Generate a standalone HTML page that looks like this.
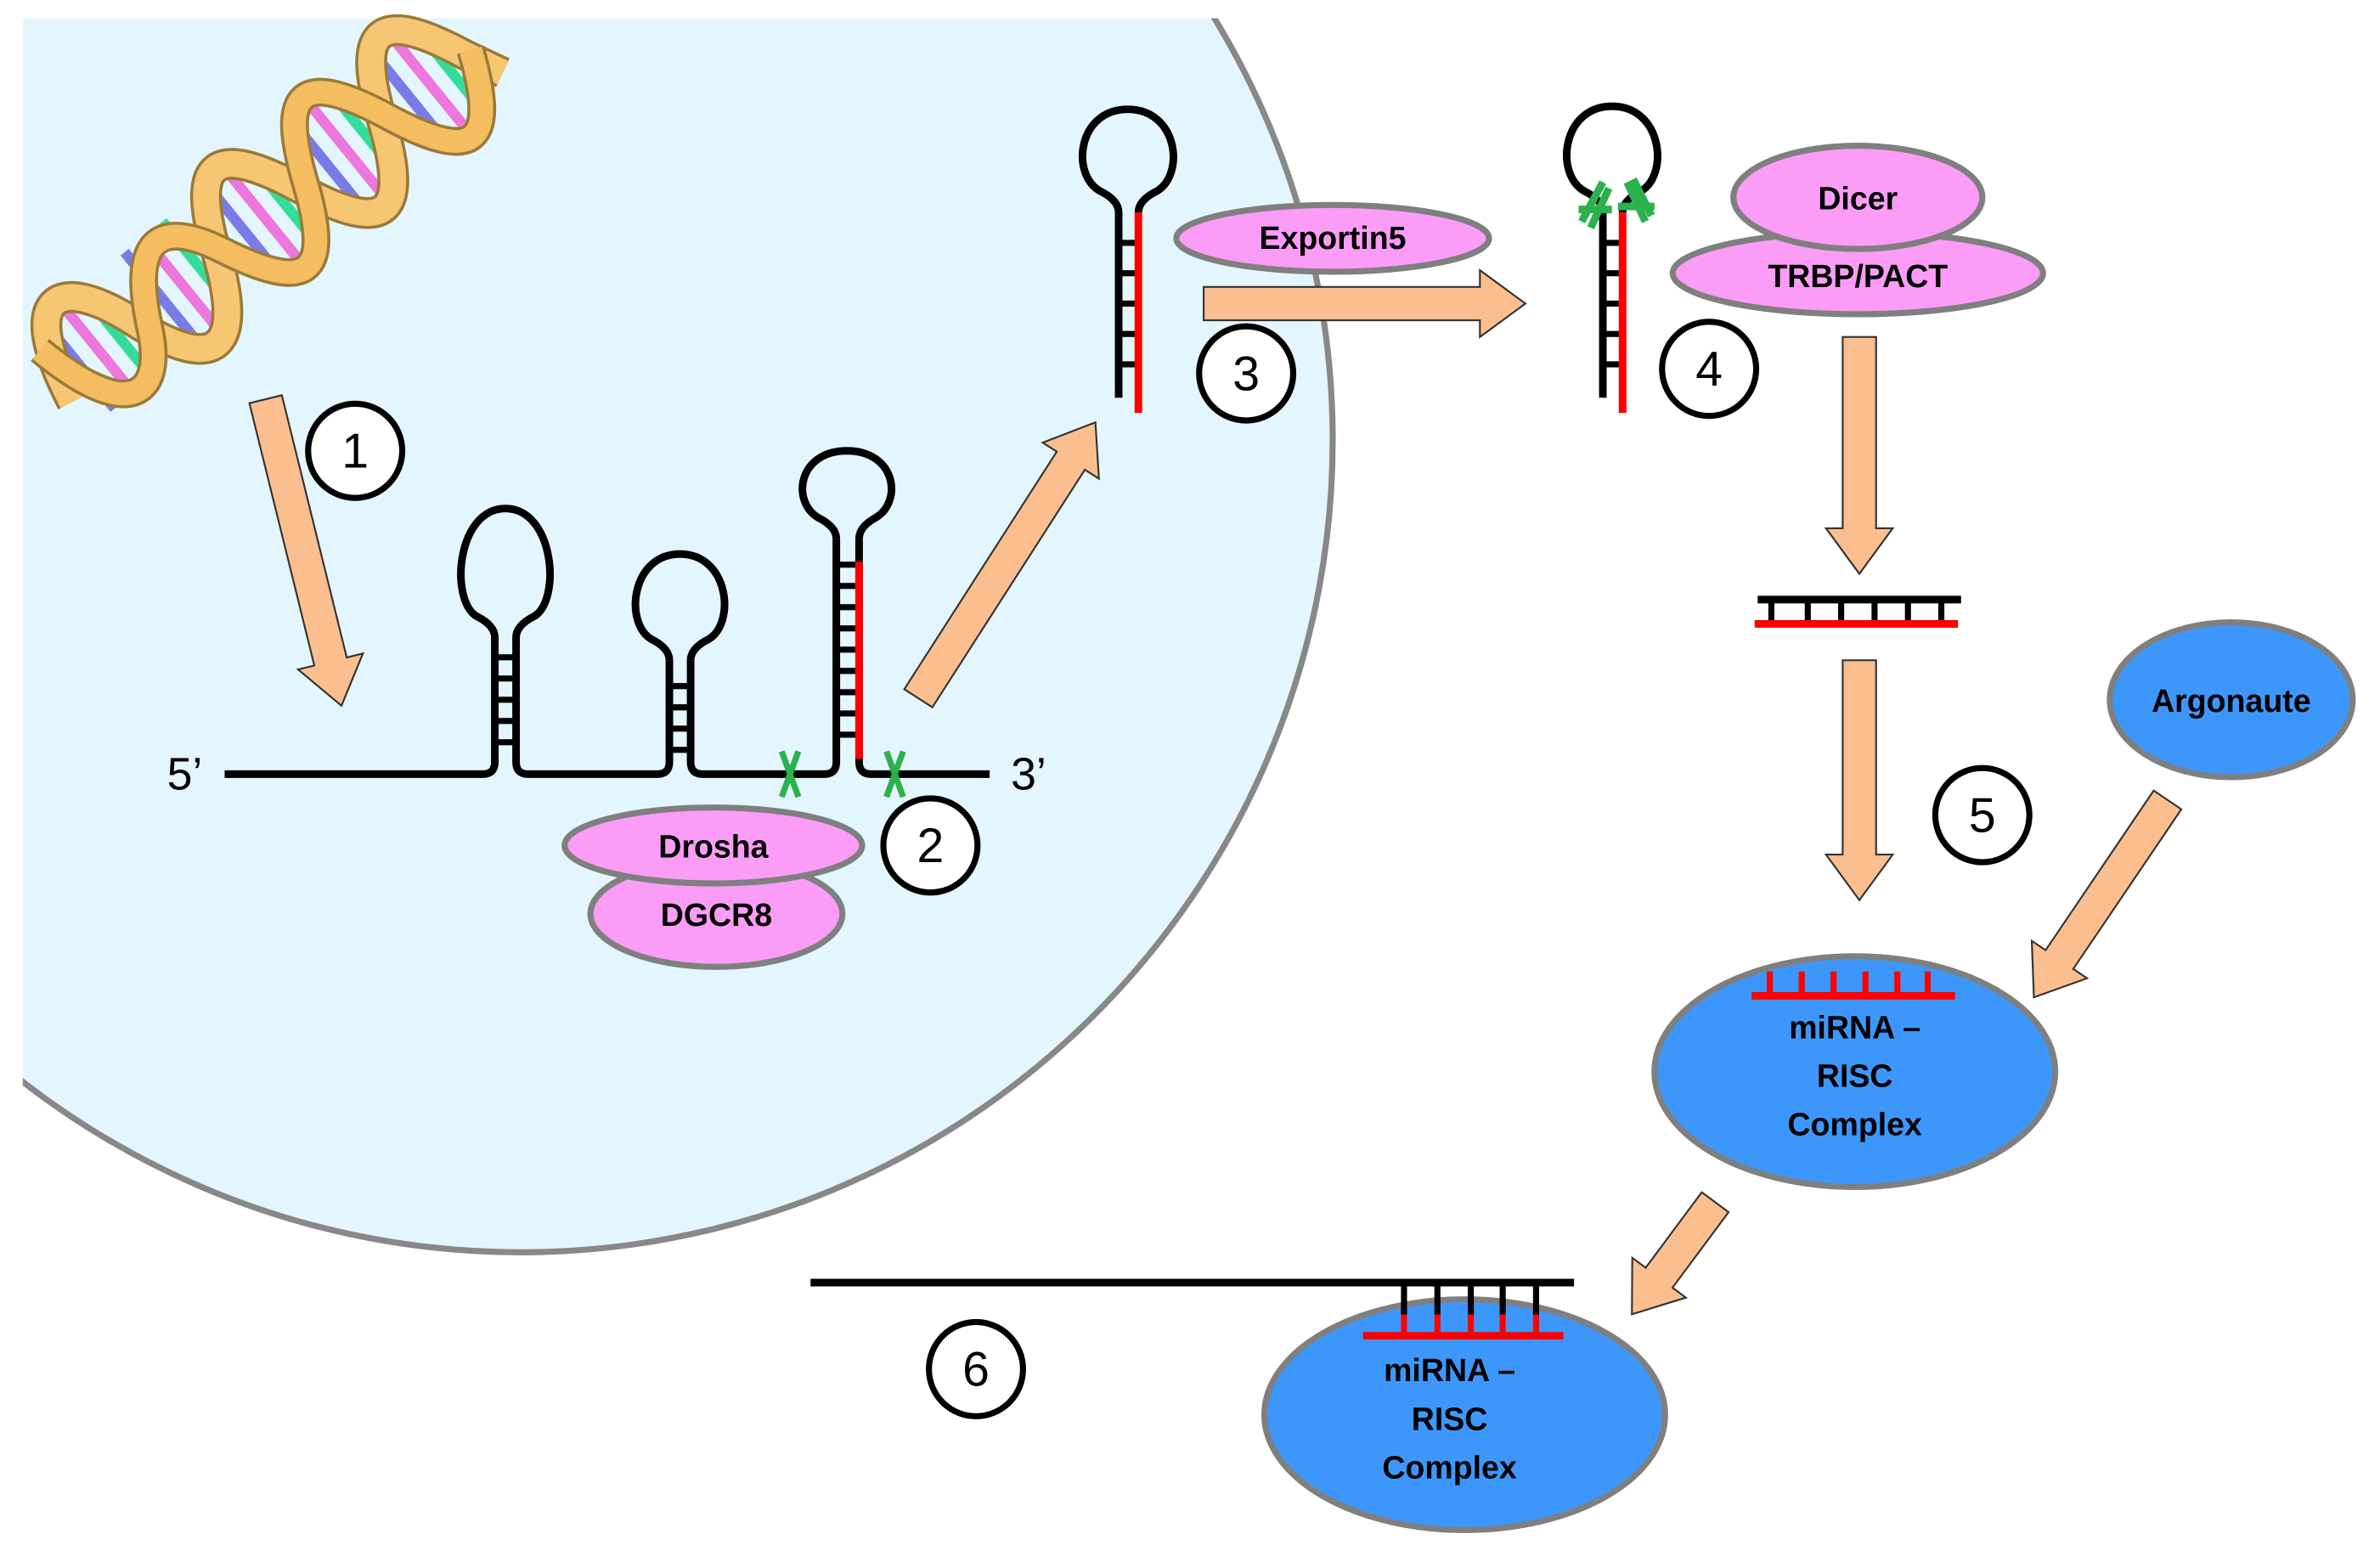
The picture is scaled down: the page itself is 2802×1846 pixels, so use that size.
<!DOCTYPE html>
<html><head><meta charset="utf-8"><style>html,body{margin:0;padding:0;background:#fff}svg{display:block}
text{font-family:"Liberation Sans",sans-serif}</style></head><body>
<svg width="2802" height="1846" viewBox="0 0 1568 1033" xmlns="http://www.w3.org/2000/svg">
<defs><clipPath id="c"><rect x="15" y="12" width="1600" height="1100"/></clipPath></defs>
<circle cx="343" cy="290" r="535" fill="#e3f6fd" stroke="#888" stroke-width="4" clip-path="url(#c)"/>

<!-- DNA -->
<g transform="translate(42,250) rotate(-39)">
 <g stroke-width="7">
  <line x1="14" y1="-36" x2="14" y2="36" stroke="#7b7be8"/><line x1="30" y1="-40" x2="30" y2="40" stroke="#ee77dd"/>
  <line x1="46" y1="-40" x2="46" y2="40" stroke="#33dd99"/><line x1="84" y1="-40" x2="84" y2="40" stroke="#7b7be8"/>
  <line x1="100" y1="-40" x2="100" y2="40" stroke="#ee77dd"/><line x1="116" y1="-40" x2="116" y2="40" stroke="#33dd99"/>
  <line x1="154" y1="-40" x2="154" y2="40" stroke="#7b7be8"/><line x1="170" y1="-40" x2="170" y2="40" stroke="#ee77dd"/>
  <line x1="186" y1="-40" x2="186" y2="40" stroke="#33dd99"/><line x1="224" y1="-40" x2="224" y2="40" stroke="#7b7be8"/>
  <line x1="240" y1="-40" x2="240" y2="40" stroke="#ee77dd"/><line x1="256" y1="-40" x2="256" y2="40" stroke="#33dd99"/>
  <line x1="294" y1="-40" x2="294" y2="40" stroke="#7b7be8"/><line x1="310" y1="-40" x2="310" y2="40" stroke="#ee77dd"/>
  <line x1="326" y1="-40" x2="326" y2="40" stroke="#33dd99"/>
 </g>
 <path d="M-5,15 C10,-60 40,-60 60,0 S105,60 130,0 S175,-60 200,0 S245,60 270,0 S315,-60 340,0 L352,25" fill="none" stroke="#9a7a3a" stroke-width="21"/>
 <path d="M-5,15 C10,-60 40,-60 60,0 S105,60 130,0 S175,-60 200,0 S245,60 270,0 S315,-60 340,0 L352,25" fill="none" stroke="#f6c673" stroke-width="17"/>
 <path d="M0,-25 C15,50 45,50 65,10 S110,-55 135,0 S180,60 205,0 S250,-60 275,0 S320,60 345,0" fill="none" stroke="#9a7a3a" stroke-width="19"/>
 <path d="M0,-25 C15,50 45,50 65,10 S110,-55 135,0 S180,60 205,0 S250,-60 275,0 S320,60 345,0" fill="none" stroke="#f3bd60" stroke-width="15"/>
</g>

<!-- arrows -->
<g fill="#fbbf8f" stroke="#333" stroke-width="1.2">
 <path transform="translate(175,263) rotate(76.1)" d="M0,-11 H178 V-22 L208,0 L178,22 V11 H0 Z"/>
 <path transform="translate(605,460) rotate(-57.3)" d="M0,-11 H186 V-22 L216,0 L186,22 V11 H0 Z"/>
 <path transform="translate(793,200) rotate(0)" d="M0,-11 H182 V-22 L212,0 L182,22 V11 H0 Z"/>
 <path transform="translate(1225,222) rotate(90)" d="M0,-11 H126 V-22 L156,0 L126,22 V11 H0 Z"/>
 <path transform="translate(1225,435) rotate(90)" d="M0,-11 H128 V-22 L158,0 L128,22 V11 H0 Z"/>
 <path transform="translate(1428,527) rotate(124.1)" d="M0,-11 H127 V-22 L157,0 L127,22 V11 H0 Z"/>
 <path transform="translate(1130,792) rotate(126.6)" d="M0,-11 H62 V-22 L92,0 L62,22 V11 H0 Z"/>
</g>

<!-- pri-miRNA -->
<g fill="none" stroke="#000" stroke-width="5">
 <path d="M148,510 H318 Q326,510 326,502 V420 M340,420 V502 Q340,510 348,510 H433 Q441,510 441,502 V435 M455,435 V502 Q455,510 463,510 H543 Q551,510 551,502 V355 M566,355 V502 Q566,510 574,510 H652"/>
 <path d="M326,420 Q326,412 314,406 C296,395 301,335 333,335 C365,335 370,395 352,406 Q340,412 340,420"/>
 <path d="M441,435 Q441,427 429,421 C411,410 416,365 448,365 C480,365 485,410 467,421 Q455,427 455,435"/>
 <path d="M551,355 Q551,347 539,341 C521,330 526,297 558,297 C590,297 595,330 577,341 Q566,347 566,355"/>
 <g stroke-width="4"><path d="M326,433 H340 M326,447 H340 M326,461 H340 M326,475 H340 M326,489 H340 M441,452 H455 M441,466 H455 M441,480 H455 M441,494 H455 M551,372 H566 M551,386 H566 M551,400 H566 M551,414 H566 M551,428 H566 M551,442 H566 M551,456 H566 M551,470 H566 M551,484 H566"/></g>
</g>
<line x1="566" y1="370" x2="566" y2="500" stroke="#f00" stroke-width="5"/>
<g stroke="#2bb24c" stroke-width="4" fill="none"><path d="M515,495 L526,525 M526,495 L515,525 M584,495 L595,525 M595,495 L584,525"/></g>
<text x="110" y="520" font-size="30">5’</text>
<text x="666" y="520" font-size="30">3’</text>

<!-- Drosha/DGCR8 -->
<g stroke="#7f7f7f" stroke-width="4" fill="#fb9cf6">
 <ellipse cx="472" cy="602" rx="83" ry="35"/>
 <ellipse cx="470" cy="557" rx="98" ry="25"/>
</g>
<g font-weight="bold" font-size="21" text-anchor="middle">
<text x="470" y="565">Drosha</text><text x="472" y="610">DGCR8</text></g>

<!-- pre-miRNA 3 -->
<g fill="none" stroke="#000" stroke-width="5">
 <path d="M737,262 V140 Q737,132 725,126 C705,115 710,72 743,72 C776,72 781,115 762,126 Q750,132 750,140"/>
 <path stroke-width="4" d="M737,160 H750 M737,180 H750 M737,200 H750 M737,220 H750 M737,240 H750"/>
</g>
<line x1="750" y1="140" x2="750" y2="272" stroke="#f00" stroke-width="5"/>
<ellipse cx="878" cy="157" rx="103" ry="22" fill="#fb9cf6" stroke="#7f7f7f" stroke-width="4"/>
<text x="878" y="164" font-size="21" font-weight="bold" text-anchor="middle">Exportin5</text>

<!-- pre-miRNA 4 -->
<g fill="none" stroke="#000" stroke-width="5">
 <path d="M1056,262 V140 Q1056,132 1044,126 C1024,115 1029,70 1062,70 C1095,70 1100,115 1081,126 Q1069,132 1069,140"/>
 <path stroke-width="4" d="M1056,160 H1069 M1056,180 H1069 M1056,200 H1069 M1056,220 H1069 M1056,240 H1069"/>
</g>
<line x1="1069" y1="140" x2="1069" y2="272" stroke="#f00" stroke-width="5"/>
<g stroke="#2bb24c" stroke-width="5" fill="none"><path d="M1042,146 L1056,120 M1048,150 L1060,124 M1072,120 L1084,146 M1076,118 L1088,142 M1040,138 L1062,138 M1066,136 L1090,136"/></g>

<g stroke="#7f7f7f" stroke-width="4" fill="#fb9cf6">
 <ellipse cx="1224" cy="180" rx="122" ry="27"/>
 <ellipse cx="1224" cy="130" rx="82" ry="34"/>
</g>
<g font-weight="bold" font-size="21" text-anchor="middle">
<text x="1224" y="138">Dicer</text><text x="1224" y="189">TRBP/PACT</text></g>

<!-- duplex -->
<line x1="1158" y1="395" x2="1292" y2="395" stroke="#000" stroke-width="5"/>
<path d="M1167,395 V411 M1191,395 V411 M1213,395 V411 M1235,395 V411 M1257,395 V411 M1279,395 V411" stroke="#000" stroke-width="4"/>
<line x1="1156" y1="411" x2="1290" y2="411" stroke="#f00" stroke-width="5"/>

<!-- Argonaute -->
<g stroke="#7f7f7f" stroke-width="4" fill="#3d97fb">
 <ellipse cx="1470" cy="461" rx="80" ry="51"/>
 <ellipse cx="1222" cy="706" rx="132" ry="76"/>
 <ellipse cx="965" cy="932" rx="132" ry="76"/>
</g>
<text x="1470" y="469" font-size="21" font-weight="bold" text-anchor="middle">Argonaute</text>
<g font-weight="bold" font-size="21" text-anchor="middle">
<text x="1222" y="684">miRNA –</text><text x="1222" y="716">RISC</text><text x="1222" y="748">Complex</text>
<text x="955" y="910">miRNA –</text><text x="955" y="942">RISC</text><text x="955" y="974">Complex</text></g>
<line x1="1154" y1="656" x2="1288" y2="656" stroke="#f00" stroke-width="5"/>
<path d="M1166,656 V640 M1187,656 V640 M1208,656 V640 M1229,656 V640 M1250,656 V640 M1270,656 V640" stroke="#f00" stroke-width="4"/>

<!-- mRNA -->
<line x1="534" y1="845" x2="1037" y2="845" stroke="#000" stroke-width="5"/>
<path d="M925,845 V866 M947,845 V866 M969,845 V866 M990,845 V866 M1012,845 V866" stroke="#000" stroke-width="4"/>
<path d="M925,866 V880 M947,866 V880 M969,866 V880 M990,866 V880 M1012,866 V880" stroke="#f00" stroke-width="4"/>
<line x1="898" y1="880" x2="1030" y2="880" stroke="#f00" stroke-width="5"/>

<!-- number circles -->
<g fill="#fff" stroke="#000" stroke-width="4">
 <circle cx="234" cy="297" r="31"/><circle cx="613" cy="557" r="31"/><circle cx="821" cy="246" r="31"/>
 <circle cx="1126" cy="243" r="31"/><circle cx="1306" cy="537" r="31"/><circle cx="643" cy="902" r="31"/>
</g>
<g font-size="32" text-anchor="middle">
<text x="234" y="308">1</text><text x="613" y="568">2</text><text x="821" y="257">3</text>
<text x="1126" y="254">4</text><text x="1306" y="548">5</text><text x="643" y="913">6</text></g>
</svg>
</body></html>
